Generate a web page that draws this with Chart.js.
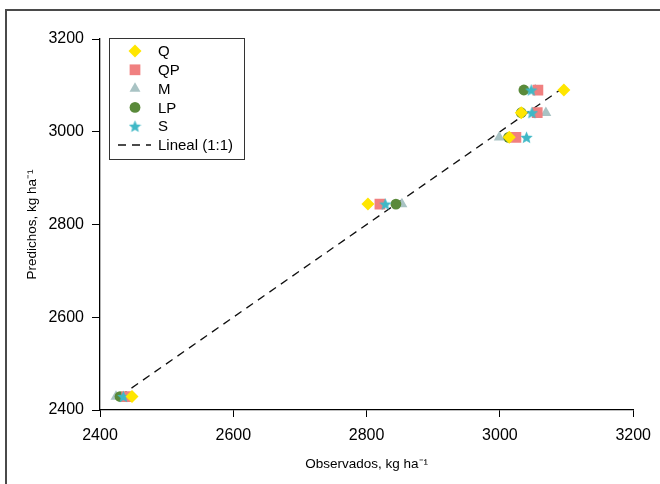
<!DOCTYPE html>
<html>
<head>
<meta charset="utf-8">
<script src="https://cdn.jsdelivr.net/npm/chart.js@4.4.1/dist/chart.umd.min.js"></script>
<style>
  html, body { margin: 0; padding: 0; background: #fff; }
  #wrap { width: 660px; height: 484px; position: relative; }
</style>
</head>
<body>
<div id="wrap"><canvas id="chart" width="660" height="484"></canvas></div>
<script>
// Data
const seriesNames = ['Q', 'QP', 'M', 'LP', 'S'];
const predicted = [2429, 2844, 2988, 3041, 3090];
const obsQ  = [2448, 2802, 3014, 3032, 3096];
const obsQP = [2440, 2820, 3024, 3056, 3057];
const obsM  = [2424, 2853, 2999, 3069, 3053];
const obsLP = [2430, 2844, 3013, 3032, 3036];
const obsS  = [2435, 2828, 3040, 3048, 3047];
const lineRange = [2430, 3090];
const ticks = [2400, 2600, 2800, 3000, 3200];

const colors = {
    Q: '#FFE600',
    QP: '#F08080',
    M: '#A9C3C4',
    LP: '#5A8A3A',
    S: '#3FB8C6'
};

const FONT = '"Liberation Sans", Arial, sans-serif';

// Filled five-point star for S (Chart.js "star" is only stroked)
function makeStar(size, color) {
    const c = document.createElement('canvas');
    c.width = size; c.height = size;
    const g = c.getContext('2d');
    const cx = size / 2, cy = size / 2 + 0.5;
    const R = size / 2, r = R * 0.45;
    g.beginPath();
    for (let i = 0; i < 10; i++) {
        const rad = -Math.PI / 2 + i * Math.PI / 5;
        const rr = i % 2 === 0 ? R : r;
        g.lineTo(cx + Math.cos(rad) * rr, cy + Math.sin(rad) * rr);
    }
    g.closePath();
    g.fillStyle = color;
    g.fill();
    return c;
}
const starImg = makeStar(13, colors.S);

const pts = xs => xs.map((x, i) => ({ x: x, y: predicted[i] }));

function series(label, xs, style, radius, order) {
    return {
        label: label,
        data: pts(xs),
        showLine: false,
        pointStyle: style,
        pointRadius: radius,
        pointHoverRadius: radius,
        pointBackgroundColor: colors[label],
        pointBorderWidth: 0,
        borderColor: colors[label],
        backgroundColor: colors[label],
        order: order
    };
}

const datasets = [
    series('Q', obsQ, 'rectRot', 6.5, 1),
    series('QP', obsQP, 'rect', 7.6, 3),
    series('M', obsM, 'triangle', 6.3, 5),
    series('LP', obsLP, 'circle', 5.4, 4),
    series('S', obsS, starImg, 6.5, 2),
    {
        label: 'Lineal (1:1)',
        data: lineRange.map(v => ({ x: v, y: v })),
        showLine: true,
        borderColor: '#111',
        borderWidth: 1.3,
        borderDash: [8, 6],
        pointRadius: 0,
        fill: false,
        order: 10
    }
];

// Frame around the figure and legend box inside the plot
const decorPlugin = {
    id: 'decor',
    beforeDraw(chart) {
        const ctx = chart.ctx;
        ctx.save();
        ctx.fillStyle = '#fff';
        ctx.fillRect(0, 0, chart.width, chart.height);
        ctx.strokeStyle = '#4a4a4a';
        ctx.lineWidth = 2;
        ctx.beginPath();
        ctx.moveTo(6, 484);
        ctx.lineTo(6, 10);
        ctx.lineTo(660, 10);
        ctx.stroke();
        ctx.restore();
    },
    afterDraw(chart) {
        const ctx = chart.ctx;
        ctx.save();
        ctx.fillStyle = '#fff';
        ctx.fillRect(109, 38, 135, 121);
        ctx.strokeStyle = '#333';
        ctx.lineWidth = 1;
        ctx.strokeRect(109.5, 38.5, 135, 121);
        ctx.font = '15px ' + FONT;
        ctx.textBaseline = 'middle';
        ctx.textAlign = 'left';
        chart.data.datasets.forEach((ds, i) => {
            const y = 51 + i * 18.8;
            if (ds.showLine) {
                ctx.strokeStyle = ds.borderColor;
                ctx.lineWidth = ds.borderWidth;
                ctx.setLineDash(ds.borderDash);
                ctx.beginPath();
                ctx.moveTo(118, y);
                ctx.lineTo(151, y);
                ctx.stroke();
                ctx.setLineDash([]);
            } else {
                ctx.fillStyle = ds.pointBackgroundColor;
                Chart.helpers.drawPoint(ctx, {
                    pointStyle: ds.pointStyle,
                    radius: ds.pointRadius,
                    rotation: 0,
                    borderWidth: 0
                }, 135, y);
            }
            ctx.fillStyle = '#000';
            ctx.fillText(ds.label, 158, y + 1);
        });
        ctx.restore();
    }
};

new Chart(document.getElementById('chart'), {
    type: 'scatter',
    data: { datasets: datasets },
    plugins: [decorPlugin],
    options: {
        responsive: false,
        animation: false,
        layout: { padding: { top: 39, right: 21, left: 0, bottom: 0 } },
        plugins: {
            legend: { display: false },
            tooltip: { enabled: false }
        },
        scales: {
            x: {
                type: 'linear',
                min: ticks[0],
                max: ticks[ticks.length - 1],
                afterBuildTicks: s => { s.ticks = ticks.map(v => ({ value: v })); },
                afterFit: s => { s.height = 74; },
                grid: { drawOnChartArea: false, drawTicks: true, tickLength: 7, color: '#000', lineWidth: 1 },
                border: { color: '#000', width: 1.3 },
                ticks: {
                    color: '#000',
                    font: { family: FONT, size: 16 },
                    padding: 9,
                    maxRotation: 0,
                    callback: v => String(v)
                },
                title: {
                    display: true,
                    text: 'Observados, kg ha\u207B\u00B9',
                    color: '#000',
                    font: { family: FONT, size: 13.5 },
                    padding: { top: 0, bottom: 12 }
                }
            },
            y: {
                type: 'linear',
                min: ticks[0],
                max: ticks[ticks.length - 1],
                afterBuildTicks: s => { s.ticks = ticks.map(v => ({ value: v })); },
                afterFit: s => { s.width = 100; },
                grid: { drawOnChartArea: false, drawTicks: true, tickLength: 8, color: '#000', lineWidth: 1 },
                border: { color: '#000', width: 1.3 },
                ticks: {
                    color: '#000',
                    font: { family: FONT, size: 16 },
                    padding: 8,
                    callback: v => String(v)
                },
                title: {
                    display: true,
                    text: 'Predichos, kg ha\u207B\u00B9',
                    color: '#000',
                    font: { family: FONT, size: 13.5 },
                    padding: { top: 24, bottom: 0 }
                }
            }
        }
    }
});
</script>
</body>
</html>
